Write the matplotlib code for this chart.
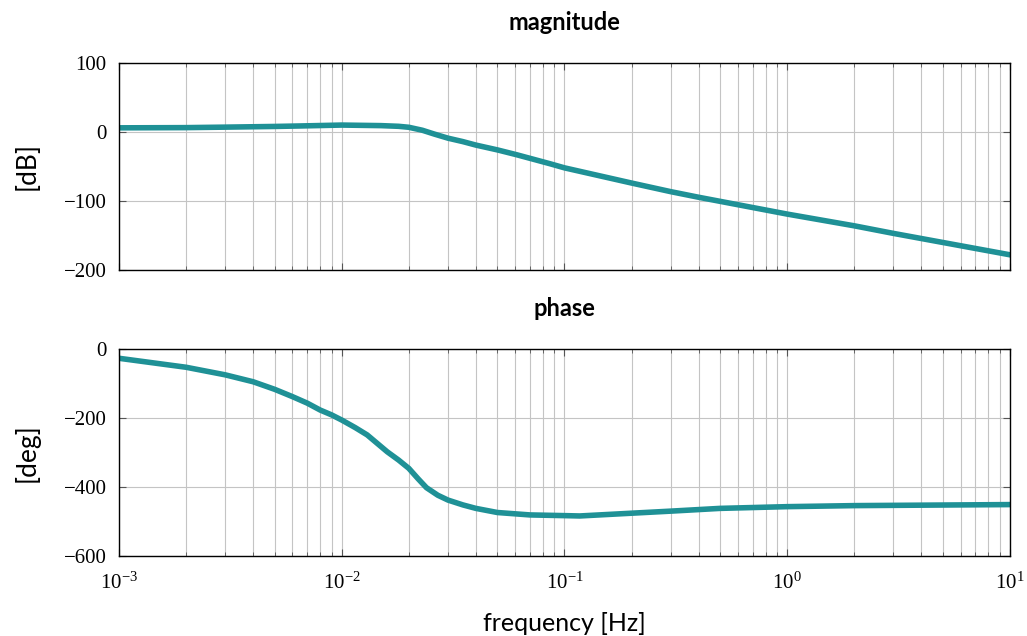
import numpy as np
import matplotlib
matplotlib.use("Agg")
import matplotlib.pyplot as plt
from matplotlib.ticker import LogLocator, NullFormatter

# Values (frequency in Hz)
mag_freq = [1e-3, 2e-3, 3e-3, 5e-3, 6.5e-3, 1e-2, 1.5e-2, 1.8e-2, 2e-2, 2.3e-2, 2.6e-2,
            3e-2, 3.5e-2, 4e-2, 5e-2, 6.1e-2, 8.6e-2, 1e-1, 0.2, 0.3,
            0.4, 1.0, 2.0, 3.0, 10.0]
mag_db = [6, 6.3, 7, 8, 8.7, 10, 9.2, 8.2, 6.8, 2.5, -3,
          -9, -14, -19, -26, -33, -46, -52, -74, -86.5,
          -94.6, -119, -136, -147, -178]

ph_freq = [1e-3, 2e-3, 3e-3, 4e-3, 5e-3, 6e-3, 7e-3, 8e-3, 9e-3, 1e-2, 1.15e-2,
           1.3e-2, 1.6e-2, 1.8e-2, 2e-2, 2.2e-2, 2.4e-2, 2.7e-2, 3e-2, 3.5e-2,
           4e-2, 5e-2, 7e-2, 1e-1, 1.17e-1, 0.2, 0.3, 0.5, 1.0, 2.0, 10.0]
ph_deg = [-27, -53, -75, -95, -117, -138, -157, -177, -191, -206, -228,
          -249, -298, -322, -346, -376, -402, -424, -438, -452,
          -462, -474, -481, -483, -484, -476, -470, -462, -457, -454, -451]

line_color = "#1f9196"
serif = ["Liberation Serif", "DejaVu Serif"]
sans = ["Lato", "DejaVu Sans"]

plt.rcParams["mathtext.fontset"] = "stix"
plt.rcParams["font.family"] = serif
plt.rcParams["axes.unicode_minus"] = True

fig = plt.figure(figsize=(10.27, 6.36), dpi=100)
ax0 = fig.add_axes([0.1159, 0.5755, 0.8675, 0.3255])
ax1 = fig.add_axes([0.1159, 0.1258, 0.8675, 0.3255])

for ax, fx, fy, ylim, yticks, title, ylabel in [
        (ax0, mag_freq, mag_db, (-200, 100), [-200, -100, 0, 100], "magnitude", "[dB]"),
        (ax1, ph_freq, ph_deg, (-600, 0), [-600, -400, -200, 0], "phase", "[deg]")]:
    ax.plot(fx, fy, color=line_color, lw=4, solid_joinstyle="round")
    ax.set_xscale("log")
    ax.set_xlim(1e-3, 1e1)
    ax.set_ylim(*ylim)
    ax.set_yticks(yticks)
    ax.xaxis.set_major_locator(LogLocator(base=10, numticks=10))
    ax.xaxis.set_minor_locator(LogLocator(base=10, subs=np.arange(2, 10), numticks=20))
    ax.xaxis.set_minor_formatter(NullFormatter())
    ax.grid(True, which="both", color="#c4c4c4", lw=0.8)
    ax.set_axisbelow(True)
    ax.tick_params(which="both", direction="in", top=True, right=True,
                   labelsize=15, color="#555555")
    ax.tick_params(axis="y", pad=9)
    ax.tick_params(axis="x", pad=12)
    ax.tick_params(which="major", length=5)
    ax.tick_params(which="minor", length=3)
    for s in ax.spines.values():
        s.set_linewidth(1.0)
    ax.set_title(title, fontsize=17, fontweight="bold", family=sans, pad=24)
    ax.set_ylabel(ylabel, fontsize=19, family=sans, labelpad=17)

ax0.tick_params(labelbottom=False)
ax1.set_xlabel("frequency [Hz]", fontsize=18, family=sans, labelpad=13)

fig.savefig("out.png", dpi=100)
